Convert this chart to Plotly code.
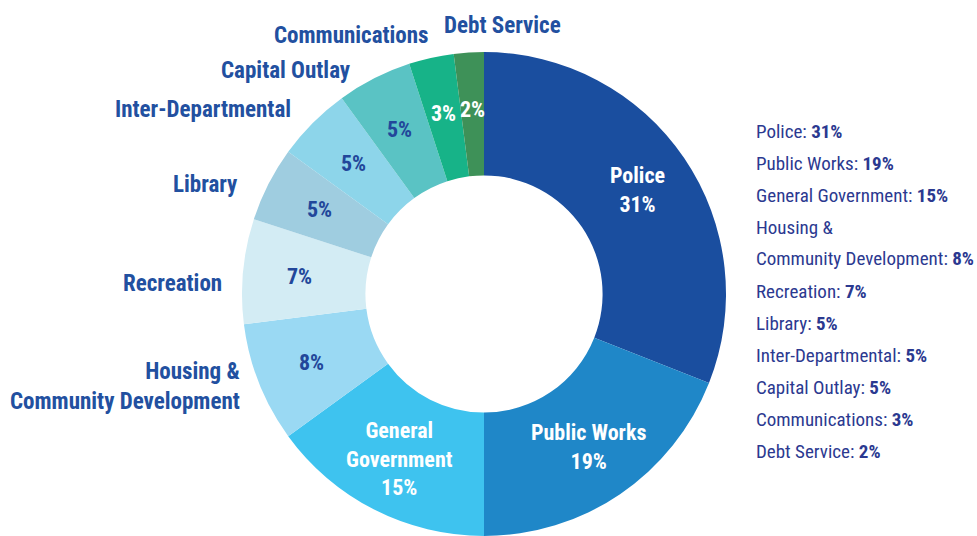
import math
import plotly.graph_objects as go

categories = ["Police", "Public Works", "General Government",
              "Housing & Community Development", "Recreation", "Library",
              "Inter-Departmental", "Capital Outlay", "Communications", "Debt Service"]
values = [31, 19, 15, 8, 7, 5, 5, 5, 3, 2]
colors = ["#1a4e9f", "#1f87c8", "#3ec3ef", "#9ad9f3", "#d3ecf4",
          "#9fcde0", "#8dd5ea", "#5ac3c4", "#17b388", "#3e9158"]
inside_names = ["Police", "Public Works", "General<br>Government"]
inside_colors = ["white", "white", "white", "#22479a", "#22479a",
                 "#22479a", "#22479a", "#22479a", "white", "white"]
outside_names = ["", "", "", "Housing &<br>Community Development", "Recreation",
                 "Library", "Inter-Departmental", "Capital Outlay",
                 "Communications", "Debt Service"]
legend_names = ["Police", "Public Works", "General Government",
                "Housing &<br>Community Development", "Recreation", "Library",
                "Inter-Departmental", "Capital Outlay", "Communications", "Debt Service"]

FONT = "Roboto Condensed, Roboto, Arial, sans-serif"
W, H = 977, 536

cx, cy, r = 484, 294, 242
HOLE = 0.49
fig = go.Figure(go.Pie(
    labels=categories, values=values, sort=False, direction="clockwise",
    rotation=0, hole=HOLE,
    marker=dict(colors=colors, line=dict(width=0)),
    textinfo="none",
    domain=dict(x=[(cx - r) / W, (cx + r) / W], y=[(H - cy - r) / H, (H - cy + r) / H]),
    showlegend=False, hoverinfo="label+percent",
))

annotations = []
# in-slice labels, placed at the mid-angle of each slice (derived from values)
total = sum(values)
cum = 0
r_text = r * 0.765
for i, v in enumerate(values):
    ang = (cum + v / 2) / total * 2 * math.pi
    cum += v
    px = cx + r_text * math.sin(ang)
    py = cy - r_text * math.cos(ang)
    txt = f"<b>{inside_names[i]}<br>{v}%</b>" if i < len(inside_names) else f"<b>{v}%</b>"
    annotations.append(dict(
        x=px / W, y=1 - py / H, xref="paper", yref="paper", xanchor="center",
        yanchor="middle", align="center", showarrow=False, text=txt,
        font=dict(family=FONT, size=22, color=inside_colors[i])))

# outside labels (text from arrays, placement by layout)
label_pos = {
    "Housing &<br>Community Development": (242, 386),
    "Recreation": (224, 283),
    "Library": (240, 184),
    "Inter-Departmental": (293, 109),
    "Capital Outlay": (353, 70),
    "Communications": (431, 36),
    "Debt Service": (563, 25),
}
for name in outside_names:
    if not name:
        continue
    x, y = label_pos[name]
    annotations.append(dict(
        x=x / W, y=1 - y / H, xref="paper", yref="paper", xanchor="right",
        yanchor="middle", align="right", showarrow=False, text=f"<b>{name}</b>",
        font=dict(family=FONT, size=23, color="#2250a0")))

# right-side legend
line_y = 131
for name, v in zip(legend_names, values):
    parts = name.split("<br>")
    for j, part in enumerate(parts):
        txt = part if j < len(parts) - 1 else f"{part}: <b>{v}%</b>"
        annotations.append(dict(
            x=754 / W, y=1 - line_y / H, xref="paper", yref="paper", xanchor="left",
            yanchor="middle", align="left", showarrow=False, text=txt,
            font=dict(family=FONT, size=19, color="#2b3990")))
        line_y += 32

fig.update_layout(
    width=W, height=H, margin=dict(l=0, r=0, t=0, b=0),
    paper_bgcolor="white", plot_bgcolor="white",
    annotations=annotations,
)
fig.write_html("out.html", post_script="document.body.style.margin='0';",
               config={"displayModeBar": False})
